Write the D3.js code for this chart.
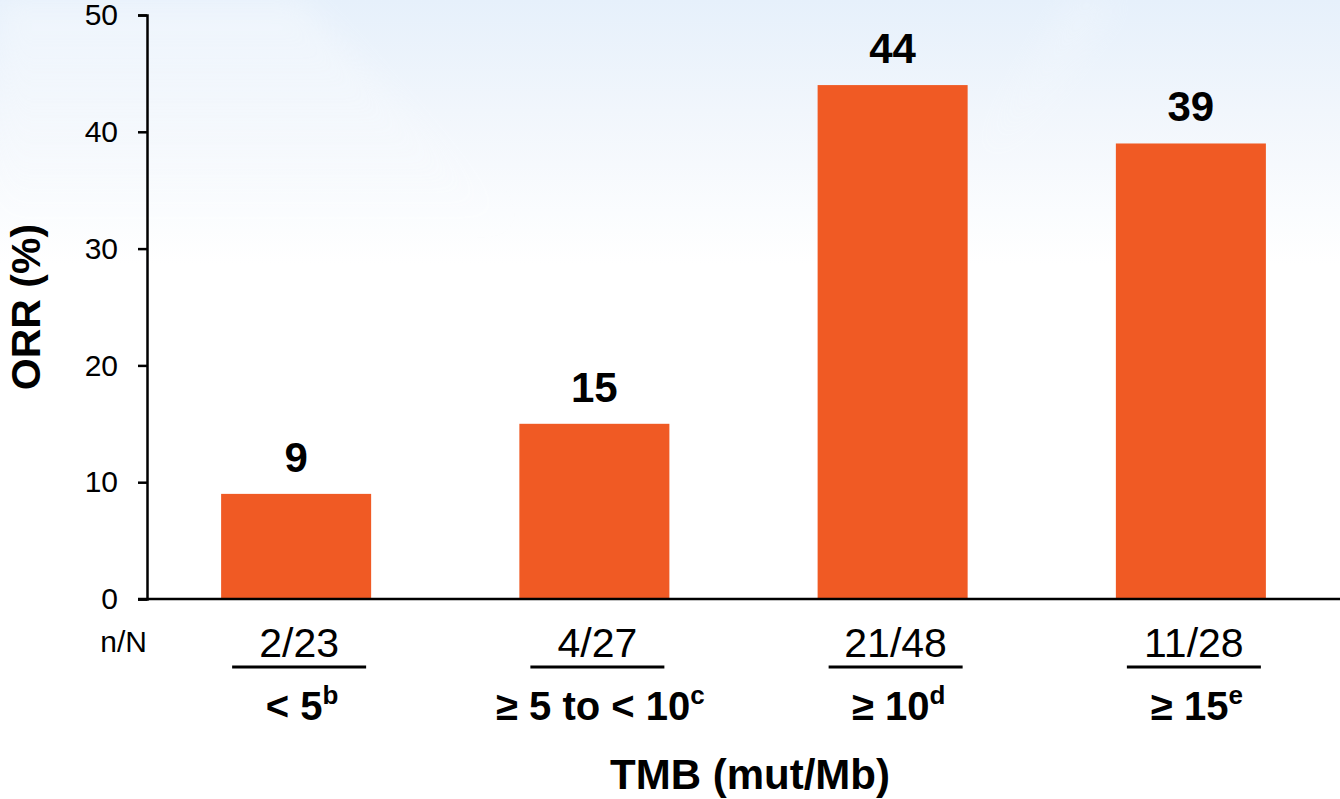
<!DOCTYPE html>
<html>
<head>
<meta charset="utf-8">
<script src="https://cdn.jsdelivr.net/npm/d3@7"></script>
<style>
  html, body { margin: 0; padding: 0; background: #ffffff; }
  svg { display: block; font-family: Arial, "Liberation Sans", Helvetica, sans-serif; }
</style>
</head>
<body>
<svg id="chart" width="1340" height="799"></svg>
<script>
// ORR by tumour mutational burden group
const groups = ["< 5", "\u2265 5 to < 10", "\u2265 10", "\u2265 15"];
const footnotes = ["b", "c", "d", "e"];
const orr = [9, 15, 44, 39];
const responders = ["2/23", "4/27", "21/48", "11/28"];
const yTicks = [0, 10, 20, 30, 40, 50];

const svg = d3.select("#chart");
const W = 1340, H = 799;

// soft blue backdrop fading to white
const defs = svg.append("defs");
const bg = defs.append("linearGradient").attr("id", "bg").attr("x1", 0).attr("y1", 0).attr("x2", 0).attr("y2", 1);
bg.append("stop").attr("offset", "0").attr("stop-color", "#e6f0fb");
bg.append("stop").attr("offset", "0.14").attr("stop-color", "#f1f6fc");
bg.append("stop").attr("offset", "0.33").attr("stop-color", "#ffffff");
bg.append("stop").attr("offset", "1").attr("stop-color", "#ffffff");
svg.append("rect").attr("width", W).attr("height", H).attr("fill", "url(#bg)");

const blur = defs.append("filter").attr("id", "soft").attr("x", "-20%").attr("y", "-20%").attr("width", "140%").attr("height", "140%");
blur.append("feGaussianBlur").attr("stdDeviation", 14);
const streak = defs.append("linearGradient").attr("id", "streak").attr("x1", 0).attr("y1", 0).attr("x2", 0).attr("y2", 1);
streak.append("stop").attr("offset", "0").attr("stop-color", "#ffffff").attr("stop-opacity", 0.6);
streak.append("stop").attr("offset", "1").attr("stop-color", "#ffffff").attr("stop-opacity", 0);
svg.append("path").attr("d", "M0,0 L300,0 L520,230 L0,230 Z").attr("fill", "url(#streak)")
  .attr("opacity", 0.55).attr("filter", "url(#soft)");
svg.append("path").attr("d", "M1070,0 L1120,0 L1000,170 L960,170 Z").attr("fill", "url(#streak)")
  .attr("opacity", 0.3).attr("filter", "url(#soft)");

const x = d3.scaleBand().domain(groups).range([147, 1340]).paddingInner(0.497).paddingOuter(0.2485);
const y = d3.scaleLinear().domain([0, 50]).range([599, 15]);

// bars
svg.append("g").selectAll("rect").data(groups).join("rect")
  .attr("x", d => x(d))
  .attr("y", (d, i) => y(orr[i]))
  .attr("width", x.bandwidth())
  .attr("height", (d, i) => y(0) - y(orr[i]))
  .attr("fill", "#f05a24");

// value labels
svg.append("g").selectAll("text").data(groups).join("text")
  .attr("x", d => x(d) + x.bandwidth() / 2)
  .attr("y", (d, i) => y(orr[i]) - 22)
  .attr("text-anchor", "middle")
  .attr("font-size", 42)
  .attr("font-weight", "bold")
  .attr("fill", "#000")
  .text((d, i) => orr[i]);

// y axis
const yAxis = d3.axisLeft(y).tickValues(yTicks).tickSize(9).tickPadding(20);
const gy = svg.append("g").attr("transform", "translate(147,0)").call(yAxis);
gy.select(".domain").attr("stroke", "#000").attr("stroke-width", 2.5);
gy.selectAll(".tick line").attr("stroke", "#000").attr("stroke-width", 2.5);
gy.selectAll(".tick text").attr("font-size", 30).attr("fill", "#000")
  .attr("font-family", "Arial, 'Liberation Sans', sans-serif");

// baseline across the plot
svg.append("line")
  .attr("x1", 138).attr("x2", 1340)
  .attr("y1", y(0)).attr("y2", y(0))
  .attr("stroke", "#000").attr("stroke-width", 2.5);

// y title
svg.append("text")
  .attr("transform", `translate(40,${(y(0) + y(50)) / 2}) rotate(-90)`)
  .attr("text-anchor", "middle")
  .attr("font-size", 41)
  .attr("font-weight", "bold")
  .attr("fill", "#000")
  .text("ORR (%)");

// n/N row
svg.append("text")
  .attr("x", 147).attr("y", 652)
  .attr("text-anchor", "end")
  .attr("font-size", 30)
  .attr("fill", "#000")
  .text("n/N");

svg.append("g").selectAll("text").data(groups).join("text")
  .attr("x", d => x(d) + x.bandwidth() / 2 + 3)
  .attr("y", 657)
  .attr("text-anchor", "middle")
  .attr("font-size", 41)
  .attr("fill", "#000")
  .text((d, i) => responders[i]);

svg.append("g").selectAll("line").data(groups).join("line")
  .attr("x1", d => x(d) + x.bandwidth() / 2 - 64)
  .attr("x2", d => x(d) + x.bandwidth() / 2 + 70)
  .attr("y1", 667).attr("y2", 667)
  .attr("stroke", "#000").attr("stroke-width", 3);

// TMB group labels with footnote letters
const cat = svg.append("g").selectAll("text").data(groups).join("text")
  .attr("x", d => x(d) + x.bandwidth() / 2 + 6)
  .attr("y", 720)
  .attr("text-anchor", "middle")
  .attr("font-size", 40)
  .attr("font-weight", "bold")
  .attr("fill", "#000");
cat.append("tspan").text(d => d);
cat.append("tspan")
  .attr("font-size", 26)
  .attr("dy", -16)
  .text((d, i) => footnotes[i]);

// x title
svg.append("text")
  .attr("x", 750).attr("y", 789)
  .attr("text-anchor", "middle")
  .attr("font-size", 42)
  .attr("font-weight", "bold")
  .attr("fill", "#000")
  .text("TMB (mut/Mb)");
</script>
</body>
</html>
